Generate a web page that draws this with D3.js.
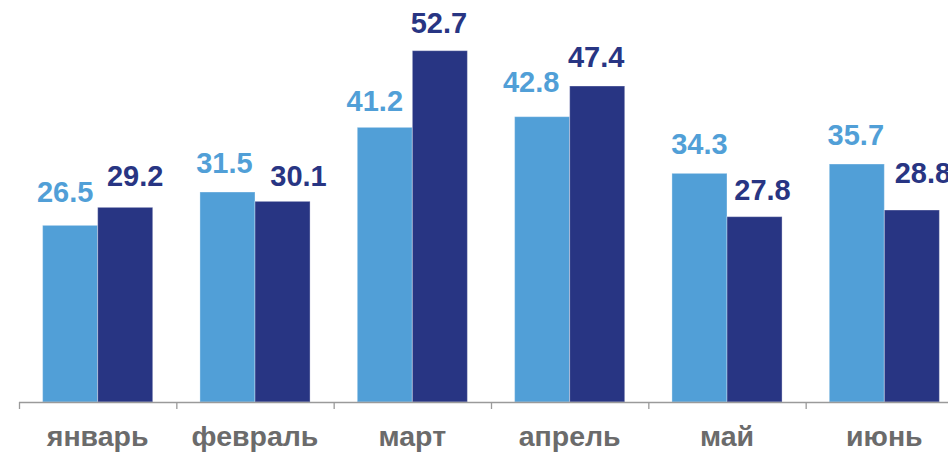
<!DOCTYPE html>
<html>
<head>
<meta charset="utf-8">
<script src="https://cdn.jsdelivr.net/npm/d3@7"></script>
<style>
  html, body { margin: 0; padding: 0; background: #fff; overflow: hidden; }
  svg { display: block; }
  text { font-family: "Liberation Sans", Arial, sans-serif; font-weight: bold; }
</style>
</head>
<body>
<svg id="chart" width="948" height="452"></svg>
<script>
const months = ['январь', 'февраль', 'март', 'апрель', 'май', 'июнь'];
const seriesA = [26.5, 31.5, 41.2, 42.8, 34.3, 35.7];
const seriesB = [29.2, 30.1, 52.7, 47.4, 27.8, 28.8];
const seriesKeys = ['a', 'b'];
const colors = ['#519fd7', '#283583'];

// labels were hand-placed in the original, so nudge each one a little
const nudgeA = [[-5, -23], [-3, -19], [-10, -16], [-11, -25], [0, -19], [-1, -19]];
const nudgeB = [[10, -21], [16, -15], [-1, -18], [-1, -19], [8, -17], [11, -27]];

const svg = d3.select('#chart');
const baseY = 402;

const x0 = d3.scaleBand()
  .domain(months)
  .range([19, 963])
  .paddingInner(0.3)
  .paddingOuter(0.15);

const x1 = d3.scaleBand()
  .domain(seriesKeys)
  .range([0, x0.bandwidth()]);

const y = d3.scaleLinear()
  .domain([0, 60])
  .range([baseY, 2]);

const rows = months.map((m, i) => ({
  month: m,
  items: [
    { key: 'a', k: 0, v: seriesA[i], nudge: nudgeA[i] },
    { key: 'b', k: 1, v: seriesB[i], nudge: nudgeB[i] },
  ],
}));

const groups = svg.selectAll('.group')
  .data(rows)
  .enter()
  .append('g')
  .attr('class', 'group')
  .attr('transform', (d) => `translate(${x0(d.month)},0)`);

groups.selectAll('rect')
  .data((d) => d.items)
  .enter()
  .append('rect')
  .attr('x', (d) => x1(d.key))
  .attr('y', (d) => y(d.v))
  .attr('width', x1.bandwidth())
  .attr('height', (d) => baseY - y(d.v))
  .attr('fill', (d) => colors[d.k])
  .attr('stroke', 'rgba(255,255,255,0.35)')
  .attr('stroke-width', 1);

groups.selectAll('.val')
  .data((d) => d.items)
  .enter()
  .append('text')
  .attr('class', 'val')
  .attr('x', (d) => x1(d.key) + x1.bandwidth() / 2 + d.nudge[0])
  .attr('y', (d) => y(d.v) + d.nudge[1])
  .attr('text-anchor', 'middle')
  .style('font-size', '29px')
  .attr('fill', (d) => colors[d.k])
  .text((d) => d.v.toFixed(1));

// axis line with ticks at band boundaries
const axis = svg.append('g').attr('class', 'axis');
axis.append('line')
  .attr('x1', x0.range()[0])
  .attr('x2', 948)
  .attr('y1', baseY + 0.5)
  .attr('y2', baseY + 0.5)
  .attr('stroke', '#9a9a9a')
  .attr('stroke-width', 1.3);

axis.selectAll('.tick')
  .data(d3.range(months.length + 1))
  .enter()
  .append('line')
  .attr('x1', (i) => x0.range()[0] + i * x0.step() + 0.5)
  .attr('x2', (i) => x0.range()[0] + i * x0.step() + 0.5)
  .attr('y1', baseY)
  .attr('y2', baseY + 7)
  .attr('stroke', '#9a9a9a')
  .attr('stroke-width', 1.3);

axis.selectAll('.cat')
  .data(months)
  .enter()
  .append('text')
  .attr('class', 'cat')
  .attr('x', (d) => x0(d) + x0.bandwidth() / 2)
  .attr('y', 446)
  .attr('text-anchor', 'middle')
  .style('font-size', '28.5px')
  .attr('fill', '#6b6b6b')
  .text((d) => d);
</script>
</body>
</html>
